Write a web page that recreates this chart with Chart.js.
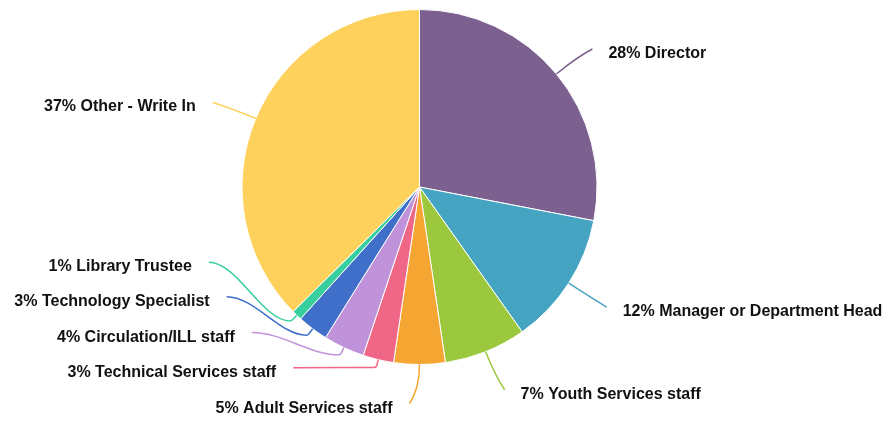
<!DOCTYPE html>
<html>
<head>
<meta charset="utf-8">
<title>Job roles</title>
<script src="https://cdn.jsdelivr.net/npm/chart.js@4/dist/chart.umd.min.js"></script>
<style>
  body { margin: 0; background: #fff; }
  #wrap { width: 887px; height: 422px; }
</style>
</head>
<body>
<div id="wrap"><canvas id="myChart" width="887" height="422"></canvas></div>
<script>
// responses per role
const roles = [
  "Director",
  "Manager or Department Head",
  "Youth Services staff",
  "Adult Services staff",
  "Technical Services staff",
  "Circulation/ILL staff",
  "Technology Specialist",
  "Library Trustee",
  "Other - Write In",
];
const counts = [30, 13, 8, 5, 3, 4, 3, 1, 40];
const sliceColors = [
  "#7c6190", "#46a4c3", "#9bc83d", "#f4a532", "#ef6686",
  "#bf92d9", "#3f6fc9", "#38cf9f", "#fdd15b",
];

// where each leader line ends, relative to the slice edge
const labelLayout = [
  { dx: 36, dy: -25, side: "right" },
  { dx: 38, dy: 24, side: "right" },
  { dx: 19, dy: 38, side: "right" },
  { dx: -10, dy: 39, side: "left" },
  { dx: -85, dy: 8, side: "left", hook: true },
  { dx: -92, dy: -15, side: "left", hook: true },
  { dx: -86, dy: -32, side: "left", hook: true },
  { dx: -88, dy: -53, side: "left", hook: true },
  { dx: -43, dy: -16, side: "left" },
];

const leaderLabels = {
  id: "leaderLabels",
  afterDatasetsDraw(chart) {
    const ctx = chart.ctx;
    const meta = chart.getDatasetMeta(0);
    const total = counts.reduce((a, b) => a + b, 0);
    ctx.save();
    meta.data.forEach((arc, i) => {
      const p = arc.getProps(["x", "y", "startAngle", "endAngle", "outerRadius"], true);
      const mid = (p.startAngle + p.endAngle) / 2;
      const ux = Math.cos(mid);
      const uy = Math.sin(mid);
      const sx = p.x + ux * p.outerRadius;
      const sy = p.y + uy * p.outerRadius;
      const lay = labelLayout[i];
      const ex = sx + lay.dx;
      const ey = sy + lay.dy;

      ctx.strokeStyle = sliceColors[i];
      ctx.lineWidth = 1.5;
      ctx.beginPath();
      ctx.moveTo(sx, sy);
      if (lay.hook) {
        const bx = sx + ux * 8;
        const by = sy + uy * 8;
        const span = Math.abs(bx - ex);
        ctx.arcTo(bx, by, bx - 10, by, 3);
        ctx.bezierCurveTo(bx - span * 0.35, by, ex + span * 0.35, ey, ex, ey);
      } else {
        const k = Math.hypot(lay.dx, lay.dy) * 0.6;
        ctx.quadraticCurveTo(sx + ux * k, sy + uy * k, ex, ey);
      }
      ctx.stroke();

      const pct = Math.round((counts[i] / total) * 100);
      ctx.fillStyle = "#111";
      ctx.font = "bold 16px 'Liberation Sans', Arial, sans-serif";
      ctx.textBaseline = "alphabetic";
      if (lay.side === "right") {
        ctx.textAlign = "left";
        ctx.fillText(pct + "% " + roles[i], ex + 16, ey + 9);
      } else {
        ctx.textAlign = "right";
        ctx.fillText(pct + "% " + roles[i], ex - 17, ey + 9);
      }
    });
    ctx.restore();
  },
};

const ctx = document.getElementById("myChart").getContext("2d");
const myChart = new Chart(ctx, {
  type: "pie",
  data: {
    labels: roles,
    datasets: [
      {
        data: counts,
        backgroundColor: sliceColors,
        borderColor: "#fff",
        borderWidth: 1,
      },
    ],
  },
  options: {
    responsive: false,
    animation: false,
    devicePixelRatio: 1,
    layout: { padding: { left: 0, right: 48, top: 9, bottom: 57 } },
    plugins: {
      legend: { display: false },
      tooltip: { enabled: false },
    },
  },
  plugins: [leaderLabels],
});
</script>
</body>
</html>
